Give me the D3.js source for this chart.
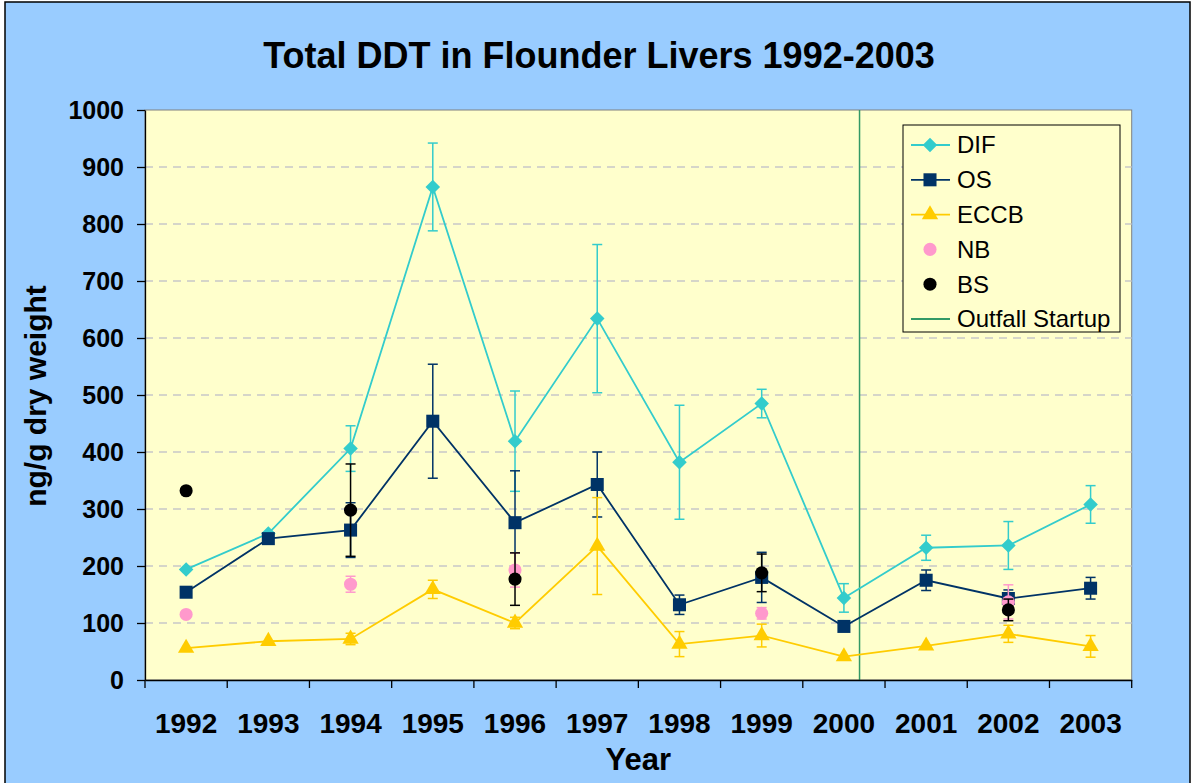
<!DOCTYPE html>
<html>
<head>
<meta charset="utf-8">
<script src="https://cdn.jsdelivr.net/npm/d3@7"></script>
<style>
  body { margin: 0; background: #fff; }
  text { font-family: Arial, "Liberation Sans", sans-serif; }
</style>
</head>
<body>
<svg id="chart" width="1192" height="783"></svg>
<script>
// Data
const years = ['1992', '1993', '1994', '1995', '1996', '1997', '1998', '1999', '2000', '2001', '2002', '2003'];

const difValues  = [194, 257, 406, 865, 419, 634, 382, 485, 144, 232, 236, 308];
const difErrors  = [null, null, 40, 77, 88, 130, 100, 25, 25, 22, 42, 33];

const osValues   = [154, 248, 263, 454, 276, 343, 132, 180, 94, 175, 143, 161];
const osErrors   = [null, null, 48, 100, 91, 57, 17, 44, null, 18, 15, 19];

const eccbValues = [56, 68, 72, 159, 100, 235, 63, 78, 41, 60, 81, 59];
const eccbErrors = [null, null, 10, 16, 10, 85, 22, 20, null, null, 15, 19];

const nbValues   = [115, null, 168, null, 193, null, null, 117, null, null, 137, null];
const nbErrors   = [null, null, 14, null, 30, null, null, 10, null, null, 30, null];

const bsValues   = [332, null, 298, null, 177, null, null, 188, null, null, 123, null];
const bsErrors   = [null, null, 81, null, 46, null, null, 33, null, null, 19, null];

const yTicks = [0, 100, 200, 300, 400, 500, 600, 700, 800, 900, 1000];
const outfallStartup = 2000.69; // Sept 2000

const series = [
    { name: 'DIF',  values: difValues,  errors: difErrors,  color: '#33CCCC', symbol: 'diamond',  line: true },
    { name: 'OS',   values: osValues,   errors: osErrors,   color: '#003366', symbol: 'square',   line: true },
    { name: 'ECCB', values: eccbValues, errors: eccbErrors, color: '#FFCC00', symbol: 'triangle', line: true },
    { name: 'NB',   values: nbValues,   errors: nbErrors,   color: '#FF99CC', symbol: 'circle',   line: false },
    { name: 'BS',   values: bsValues,   errors: bsErrors,   color: '#000000', symbol: 'circle',   line: false }
];

const svg = d3.select('#chart');

// Outer chart area
svg.append('rect')
    .attr('x', 5).attr('y', 2)
    .attr('width', 1185).attr('height', 800)
    .attr('fill', '#99CCFF')
    .attr('stroke', '#000').attr('stroke-width', 1.5);

const plot = { left: 145, top: 110, right: 1131.7, bottom: 680 };

const x = d3.scaleBand()
    .domain(years)
    .range([plot.left, plot.right])
    .padding(0);

const y = d3.scaleLinear()
    .domain([0, 1000])
    .range([plot.bottom, plot.top]);

const cx = d => x(d) + x.bandwidth() / 2;

// Plot area background
svg.append('rect')
    .attr('x', plot.left).attr('y', plot.top)
    .attr('width', plot.right - plot.left).attr('height', plot.bottom - plot.top)
    .attr('fill', '#FFFFCC')
    .attr('stroke', '#808080').attr('stroke-width', 1);

// Dashed gridlines
svg.append('g')
    .selectAll('line')
    .data(yTicks.filter(t => t > 0 && t < 1000))
    .join('line')
    .attr('x1', plot.left).attr('x2', plot.right)
    .attr('y1', d => y(d)).attr('y2', d => y(d))
    .attr('stroke', '#C8C8C8')
    .attr('stroke-width', 1.3)
    .attr('stroke-dasharray', '8,6');

// Outfall startup line
const yearIdx = Math.floor(outfallStartup);
const outX = x(String(yearIdx)) + (outfallStartup - yearIdx) * x.bandwidth();
svg.append('line')
    .attr('x1', outX).attr('x2', outX)
    .attr('y1', plot.top).attr('y2', plot.bottom)
    .attr('stroke', '#339966').attr('stroke-width', 1.5);

// Y axis
const yAxis = svg.append('g')
    .attr('transform', `translate(${plot.left},0)`)
    .call(d3.axisLeft(y).tickValues(yTicks).tickFormat(d3.format('d'))
        .tickSizeInner(8).tickSizeOuter(0).tickPadding(13));
yAxis.select('.domain').attr('stroke', '#000').attr('stroke-width', 1.3);
yAxis.selectAll('.tick line').attr('stroke', '#000').attr('stroke-width', 1.3);
yAxis.selectAll('.tick text')
    .attr('font-size', 25).attr('font-weight', 'bold').attr('fill', '#000')
    .attr('font-family', 'Arial, "Liberation Sans", sans-serif');

// X axis: labels at band centres, ticks at band edges
const xAxis = svg.append('g')
    .attr('transform', `translate(0,${plot.bottom})`)
    .call(d3.axisBottom(x).tickSize(0).tickPadding(33));
xAxis.select('.domain').attr('stroke', '#000').attr('stroke-width', 1.3);
xAxis.selectAll('.tick text')
    .attr('font-size', 28).attr('font-weight', 'bold').attr('fill', '#000')
    .attr('font-family', 'Arial, "Liberation Sans", sans-serif');

const edges = years.map(d => x(d)).concat([plot.right]);
svg.append('g')
    .selectAll('line')
    .data(edges)
    .join('line')
    .attr('x1', d => d).attr('x2', d => d)
    .attr('y1', plot.bottom).attr('y2', plot.bottom + 8)
    .attr('stroke', '#000').attr('stroke-width', 1.3);

// Symbol generator helper
function symbolPath(kind) {
    switch (kind) {
        case 'diamond':  return d3.symbol().type(d3.symbolDiamond2).size(135)();
        case 'square':   return d3.symbol().type(d3.symbolSquare).size(170)();
        case 'triangle': return d3.symbol().type(d3.symbolTriangle).size(115)();
        default:         return d3.symbol().type(d3.symbolCircle).size(135)();
    }
}

// Draw each series: error bars, line, markers
series.forEach(s => {
    const pts = years.map((yr, i) => ({ yr, v: s.values[i], e: s.errors[i] }))
        .filter(p => p.v !== null);

    const g = svg.append('g');

    // Error bars
    const eb = g.append('g')
        .selectAll('g')
        .data(pts.filter(p => p.e !== null))
        .join('g')
        .attr('stroke', s.color)
        .attr('stroke-width', 1.5);
    eb.append('line')
        .attr('x1', p => cx(p.yr)).attr('x2', p => cx(p.yr))
        .attr('y1', p => y(p.v - p.e)).attr('y2', p => y(p.v + p.e));
    eb.append('line')
        .attr('x1', p => cx(p.yr) - 5).attr('x2', p => cx(p.yr) + 5)
        .attr('y1', p => y(p.v + p.e)).attr('y2', p => y(p.v + p.e));
    eb.append('line')
        .attr('x1', p => cx(p.yr) - 5).attr('x2', p => cx(p.yr) + 5)
        .attr('y1', p => y(p.v - p.e)).attr('y2', p => y(p.v - p.e));

    if (s.line) {
        const line = d3.line()
            .x(p => cx(p.yr))
            .y(p => y(p.v));
        g.append('path')
            .datum(pts)
            .attr('d', line)
            .attr('fill', 'none')
            .attr('stroke', s.color)
            .attr('stroke-width', 1.8);
    }

    g.append('g')
        .selectAll('path')
        .data(pts)
        .join('path')
        .attr('d', symbolPath(s.symbol))
        .attr('transform', p => `translate(${cx(p.yr)},${y(p.v)})`)
        .attr('fill', s.color);
});

// Legend
const legend = svg.append('g').attr('transform', 'translate(903,125)');
legend.append('rect')
    .attr('width', 217).attr('height', 207)
    .attr('fill', '#FFFFCC')
    .attr('stroke', '#000').attr('stroke-width', 1);

const legendItems = series.map(s => ({ name: s.name, color: s.color, symbol: s.symbol, line: s.line }))
    .concat([{ name: 'Outfall Startup', color: '#339966', symbol: null, line: true }]);

const li = legend.selectAll('g.item')
    .data(legendItems)
    .join('g')
    .attr('class', 'item')
    .attr('transform', (d, i) => `translate(0,${20 + i * 34.8})`);

li.filter(d => d.line)
    .append('line')
    .attr('x1', 8).attr('x2', 47)
    .attr('stroke', d => d.color).attr('stroke-width', 1.8);

li.filter(d => d.symbol)
    .append('path')
    .attr('d', d => symbolPath(d.symbol))
    .attr('transform', 'translate(27,0)')
    .attr('fill', d => d.color);

li.append('text')
    .attr('x', 54).attr('dy', '0.35em')
    .attr('font-size', 24)
    .attr('fill', '#000')
    .text(d => d.name);

// Title and axis labels
svg.append('text')
    .attr('x', 599).attr('y', 68)
    .attr('text-anchor', 'middle')
    .attr('font-size', 36).attr('font-weight', 'bold')
    .text('Total DDT in Flounder Livers 1992-2003');

svg.append('text')
    .attr('x', (plot.left + plot.right) / 2).attr('y', 770)
    .attr('text-anchor', 'middle')
    .attr('font-size', 31).attr('font-weight', 'bold')
    .text('Year');

svg.append('text')
    .attr('transform', `translate(46,${396}) rotate(-90)`)
    .attr('text-anchor', 'middle')
    .attr('font-size', 30).attr('font-weight', 'bold')
    .text('ng/g dry weight');
</script>
</body>
</html>
